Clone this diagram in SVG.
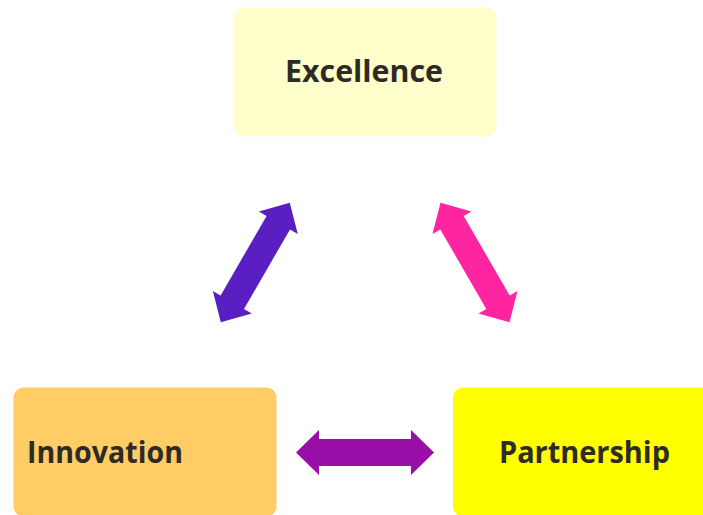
<svg xmlns="http://www.w3.org/2000/svg" width="703" height="515" viewBox="0 0 703 515">
<defs>
<style>
.box{stroke:none}
.lbl{font-family:"Open Sans","Liberation Sans",sans-serif;font-weight:bold;font-size:30.5px;fill:#2e2a25}
</style>
<polygon id="dbl" points="-69,0 -46,-22.5 -46,-13.5 46,-13.5 46,-22.5 69,0 46,22.5 46,13.5 -46,13.5 -46,22.5"/>
</defs>
<rect width="703" height="515" fill="#ffffff"/>
<g id="connectors">
<use href="#dbl" fill="#5a1fc2" transform="translate(255.3,262.5) rotate(-60)"/>
<use href="#dbl" fill="#ff249f" transform="translate(475,262.5) rotate(60)"/>
<use href="#dbl" fill="#990ea8" transform="translate(365,452.5)"/>
</g>
<g id="excellence">
<rect class="box" x="233.5" y="7.5" width="263" height="129" rx="10" fill="#ffffcc"/>
<text class="lbl" x="285" y="81.5" textLength="158" lengthAdjust="spacingAndGlyphs">Excellence</text>
</g>
<g id="innovation">
<rect class="box" x="13.5" y="387.5" width="263" height="129" rx="10" fill="#ffcc66"/>
<text class="lbl" x="27" y="462.5" textLength="156" lengthAdjust="spacingAndGlyphs">Innovation</text>
</g>
<g id="partnership">
<rect class="box" x="453" y="387.5" width="263" height="129" rx="10" fill="#ffff00"/>
<text class="lbl" x="499" y="462.5" textLength="171" lengthAdjust="spacingAndGlyphs">Partnership</text>
</g>
</svg>
